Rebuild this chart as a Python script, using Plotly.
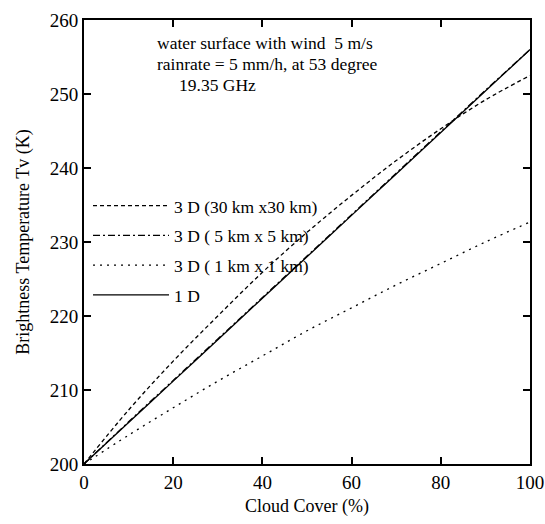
import plotly.graph_objects as go

cloud_cover = [0, 10, 20, 30, 40, 50, 60, 70, 80, 90, 100]
tb_3d_30km = [200, 207.3, 213.9, 220.0, 225.9, 231.3, 236.3, 241.0, 245.3, 249.2, 252.5]
tb_3d_5km = [200, 205.7, 211.3, 216.9, 222.5, 228.1, 233.7, 239.3, 244.9, 250.5, 256.0]
tb_3d_1km = [200, 203.9, 207.6, 211.2, 214.6, 218.0, 221.1, 224.2, 227.1, 230.0, 232.7]
tb_1d = [200, 205.6, 211.2, 216.8, 222.4, 228.0, 233.6, 239.2, 244.8, 250.4, 256.0]

names = ["3 D (30 km x30 km)", "3 D ( 5 km x 5 km)", "3 D ( 1 km x 1 km)", "1 D"]
series = [tb_3d_30km, tb_3d_5km, tb_3d_1km, tb_1d]
dashes = ["4px,3px", "7px,3px,2px,3px", "2px,5px", "solid"]

serif = "Liberation Serif, Times New Roman, serif"

fig = go.Figure()
for i, (nm, ys, ds) in enumerate(zip(names, series, dashes)):
    fig.add_trace(go.Scatter(
        x=cloud_cover, y=ys, mode="lines", name=nm, legendgroup=str(i),
        line=dict(color="black", width=1.3, dash=ds, shape="spline"),
    ))

fig.update_layout(
    width=545, height=524,
    margin=dict(l=84, r=15, t=20, b=60, autoexpand=False),
    paper_bgcolor="white", plot_bgcolor="white",
    font=dict(family=serif, color="black", size=17),
    showlegend=True,
    legend=dict(
        x=0.009, y=0.622, xanchor="left", yanchor="top",
        bgcolor="rgba(0,0,0,0)", font=dict(family=serif, size=17.5),
        itemwidth=76, tracegroupgap=4, traceorder="grouped",
    ),
    xaxis=dict(
        range=[0, 100], tickvals=[0, 20, 40, 60, 80, 100],
        showline=True, linecolor="black", linewidth=1.8, mirror="ticks",
        ticks="inside", ticklen=7, tickwidth=1.5, tickcolor="black",
        showgrid=False, zeroline=False, automargin=False,
        tickfont=dict(family=serif, size=19),
        title=dict(text="Cloud Cover (%)", font=dict(family=serif, size=18), standoff=8),
    ),
    yaxis=dict(
        range=[200, 260], tickvals=[200, 210, 220, 230, 240, 250, 260],
        showline=True, linecolor="black", linewidth=1.8, mirror="ticks",
        ticks="inside", ticklen=7, tickwidth=1.5, tickcolor="black",
        showgrid=False, zeroline=False, automargin=False,
        tickfont=dict(family=serif, size=19),
        title=dict(text="Brightness Temperature Tv (K)", font=dict(family=serif, size=18), standoff=15),
    ),
)

fig.add_annotation(x=0.406, y=0.948, xref="paper", yref="paper", showarrow=False,
                   text="water surface with wind  5 m/s", font=dict(family=serif, size=17.5),
                   xanchor="center", yanchor="middle")
fig.add_annotation(x=0.411, y=0.901, xref="paper", yref="paper", showarrow=False,
                   text="rainrate = 5 mm/h, at 53 degree", font=dict(family=serif, size=17.5),
                   xanchor="center", yanchor="middle")
fig.add_annotation(x=0.2085, y=0.854, xref="paper", yref="paper", showarrow=False,
                   text="19.35 GHz", font=dict(family=serif, size=17.5),
                   xanchor="left", yanchor="middle")

fig.write_html("out.html")
